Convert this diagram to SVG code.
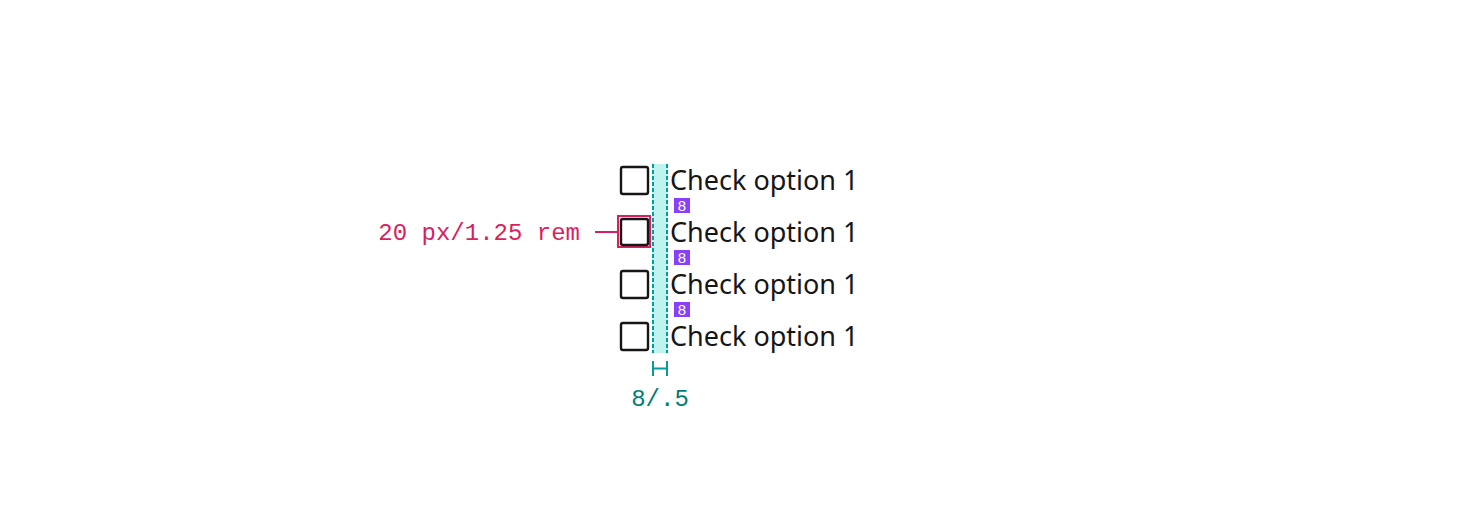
<svg xmlns="http://www.w3.org/2000/svg" width="1472" height="516" viewBox="0 0 1472 516">
<style>
.cb{fill:#fff;stroke:#161616;stroke-width:2.4}
.lbl{font-family:"Noto Sans","Liberation Sans",sans-serif;font-size:27px;fill:#161616}
.badge{fill:#8a3ffc}
.bt{font-family:"Liberation Sans",sans-serif;font-size:15px;fill:#fff;text-anchor:middle}
.dash{stroke:#009d9a;stroke-width:2;stroke-dasharray:4 2}
.teal{stroke:#009d9a;stroke-width:2;fill:none}
.mono{font-family:"Liberation Mono","DejaVu Sans Mono",monospace;font-size:24px}
</style>
<rect width="1472" height="516" fill="#fff"/>
<g id="spacing-band">
<rect x="652" y="164" width="16" height="189" fill="#bff3f0"/>
<line class="dash" x1="653" y1="164" x2="653" y2="353"/>
<line class="dash" x1="667" y1="164" x2="667" y2="353"/>
</g>
<g id="row1">
<rect class="cb" x="621" y="167" width="27" height="27" rx="2"/>
<text class="lbl" x="670" y="190">Check option 1</text>
</g>
<g id="row2">
<rect x="618" y="216" width="32" height="31" fill="none" stroke="#da1e5f" stroke-width="2"/>
<rect class="cb" x="621" y="219" width="27" height="26" rx="2"/>
<text class="lbl" x="670" y="242">Check option 1</text>
</g>
<g id="row3">
<rect class="cb" x="621" y="271" width="27" height="27" rx="2"/>
<text class="lbl" x="670" y="294">Check option 1</text>
</g>
<g id="row4">
<rect class="cb" x="621" y="323" width="27" height="27" rx="2"/>
<text class="lbl" x="670" y="346">Check option 1</text>
</g>
<g id="badges">
<rect class="badge" x="674" y="198" width="16" height="15"/>
<text class="bt" x="682" y="211">8</text>
<rect class="badge" x="674" y="250" width="16" height="15"/>
<text class="bt" x="682" y="263">8</text>
<rect class="badge" x="674" y="302" width="16" height="15"/>
<text class="bt" x="682" y="315">8</text>
</g>
<g id="connectors">
<line x1="595" y1="232" x2="618" y2="232" stroke="#da1e5f" stroke-width="2"/>
<path class="teal" d="M653 361V376M667 361V376M653 368.5H667"/>
</g>
<g id="size-label">
<text class="mono" x="580" y="240" text-anchor="end" fill="#da1e5f">20 px/1.25 rem</text>
</g>
<g id="spacing-label">
<text class="mono" x="660" y="406" text-anchor="middle" fill="#007d79">8/.5</text>
</g>
</svg>
